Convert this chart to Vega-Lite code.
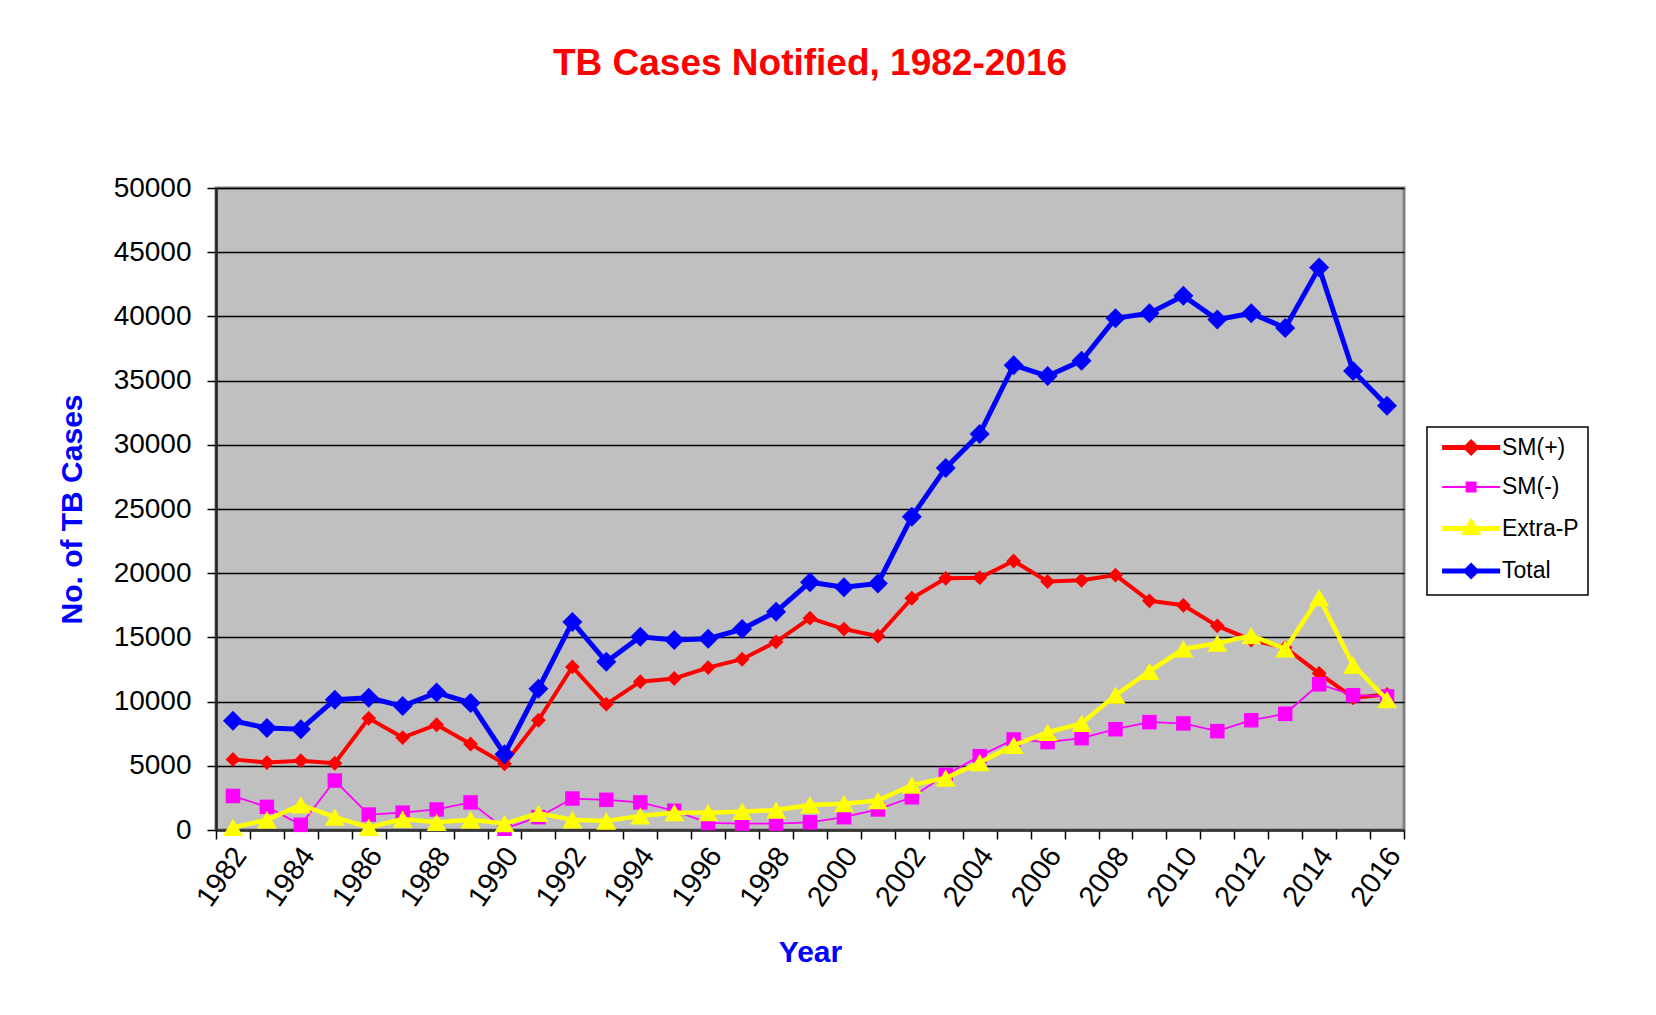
{
  "$schema": "https://vega.github.io/schema/vega-lite/v6.json",
  "autosize": "none",
  "width": 1188,
  "height": 642,
  "padding": {"left": 216, "top": 188, "right": 252, "bottom": 185},
  "background": "white",
  "config": {
    "font": "Liberation Sans",
    "view": {"fill": "#C0C0C0", "stroke": "#808080", "strokeWidth": 3},
    "legend": {"strokeWidth": 1.5}
  },
  "title": {
    "text": "TB Cases Notified, 1982-2016",
    "color": "#FF0000",
    "fontSize": 37,
    "fontWeight": "bold",
    "anchor": "middle",
    "frame": "group",
    "offset": 91
  },
  "data": {
    "values": [
      {"year":1982,"series":"SM(+)","cases":5500},{"year":1982,"series":"SM(-)","cases":2650},{"year":1982,"series":"Extra-P","cases":200},{"year":1982,"series":"Total","cases":8500},
      {"year":1983,"series":"SM(+)","cases":5250},{"year":1983,"series":"SM(-)","cases":1800},{"year":1983,"series":"Extra-P","cases":800},{"year":1983,"series":"Total","cases":7950},
      {"year":1984,"series":"SM(+)","cases":5400},{"year":1984,"series":"SM(-)","cases":400},{"year":1984,"series":"Extra-P","cases":1950},{"year":1984,"series":"Total","cases":7850},
      {"year":1985,"series":"SM(+)","cases":5200},{"year":1985,"series":"SM(-)","cases":3850},{"year":1985,"series":"Extra-P","cases":1000},{"year":1985,"series":"Total","cases":10150},
      {"year":1986,"series":"SM(+)","cases":8700},{"year":1986,"series":"SM(-)","cases":1200},{"year":1986,"series":"Extra-P","cases":200},{"year":1986,"series":"Total","cases":10300},
      {"year":1987,"series":"SM(+)","cases":7200},{"year":1987,"series":"SM(-)","cases":1350},{"year":1987,"series":"Extra-P","cases":850},{"year":1987,"series":"Total","cases":9650},
      {"year":1988,"series":"SM(+)","cases":8200},{"year":1988,"series":"SM(-)","cases":1600},{"year":1988,"series":"Extra-P","cases":600},{"year":1988,"series":"Total","cases":10700},
      {"year":1989,"series":"SM(+)","cases":6700},{"year":1989,"series":"SM(-)","cases":2150},{"year":1989,"series":"Extra-P","cases":800},{"year":1989,"series":"Total","cases":9900},
      {"year":1990,"series":"SM(+)","cases":5150},{"year":1990,"series":"SM(-)","cases":100},{"year":1990,"series":"Extra-P","cases":500},{"year":1990,"series":"Total","cases":5900},
      {"year":1991,"series":"SM(+)","cases":8550},{"year":1991,"series":"SM(-)","cases":1000},{"year":1991,"series":"Extra-P","cases":1300},{"year":1991,"series":"Total","cases":11000},
      {"year":1992,"series":"SM(+)","cases":12700},{"year":1992,"series":"SM(-)","cases":2450},{"year":1992,"series":"Extra-P","cases":800},{"year":1992,"series":"Total","cases":16200},
      {"year":1993,"series":"SM(+)","cases":9800},{"year":1993,"series":"SM(-)","cases":2350},{"year":1993,"series":"Extra-P","cases":700},{"year":1993,"series":"Total","cases":13100},
      {"year":1994,"series":"SM(+)","cases":11550},{"year":1994,"series":"SM(-)","cases":2150},{"year":1994,"series":"Extra-P","cases":1100},{"year":1994,"series":"Total","cases":15050},
      {"year":1995,"series":"SM(+)","cases":11800},{"year":1995,"series":"SM(-)","cases":1500},{"year":1995,"series":"Extra-P","cases":1350},{"year":1995,"series":"Total","cases":14800},
      {"year":1996,"series":"SM(+)","cases":12650},{"year":1996,"series":"SM(-)","cases":550},{"year":1996,"series":"Extra-P","cases":1350},{"year":1996,"series":"Total","cases":14900},
      {"year":1997,"series":"SM(+)","cases":13300},{"year":1997,"series":"SM(-)","cases":500},{"year":1997,"series":"Extra-P","cases":1450},{"year":1997,"series":"Total","cases":15650},
      {"year":1998,"series":"SM(+)","cases":14650},{"year":1998,"series":"SM(-)","cases":500},{"year":1998,"series":"Extra-P","cases":1550},{"year":1998,"series":"Total","cases":17000},
      {"year":1999,"series":"SM(+)","cases":16500},{"year":1999,"series":"SM(-)","cases":600},{"year":1999,"series":"Extra-P","cases":1950},{"year":1999,"series":"Total","cases":19300},
      {"year":2000,"series":"SM(+)","cases":15650},{"year":2000,"series":"SM(-)","cases":1000},{"year":2000,"series":"Extra-P","cases":2050},{"year":2000,"series":"Total","cases":18900},
      {"year":2001,"series":"SM(+)","cases":15100},{"year":2001,"series":"SM(-)","cases":1600},{"year":2001,"series":"Extra-P","cases":2300},{"year":2001,"series":"Total","cases":19200},
      {"year":2002,"series":"SM(+)","cases":18050},{"year":2002,"series":"SM(-)","cases":2550},{"year":2002,"series":"Extra-P","cases":3500},{"year":2002,"series":"Total","cases":24400},
      {"year":2003,"series":"SM(+)","cases":19600},{"year":2003,"series":"SM(-)","cases":4300},{"year":2003,"series":"Extra-P","cases":4050},{"year":2003,"series":"Total","cases":28200},
      {"year":2004,"series":"SM(+)","cases":19650},{"year":2004,"series":"SM(-)","cases":5750},{"year":2004,"series":"Extra-P","cases":5250},{"year":2004,"series":"Total","cases":30850},
      {"year":2005,"series":"SM(+)","cases":20950},{"year":2005,"series":"SM(-)","cases":7050},{"year":2005,"series":"Extra-P","cases":6600},{"year":2005,"series":"Total","cases":36200},
      {"year":2006,"series":"SM(+)","cases":19350},{"year":2006,"series":"SM(-)","cases":6850},{"year":2006,"series":"Extra-P","cases":7600},{"year":2006,"series":"Total","cases":35350},
      {"year":2007,"series":"SM(+)","cases":19450},{"year":2007,"series":"SM(-)","cases":7150},{"year":2007,"series":"Extra-P","cases":8300},{"year":2007,"series":"Total","cases":36550},
      {"year":2008,"series":"SM(+)","cases":19850},{"year":2008,"series":"SM(-)","cases":7850},{"year":2008,"series":"Extra-P","cases":10500},{"year":2008,"series":"Total","cases":39850},
      {"year":2009,"series":"SM(+)","cases":17850},{"year":2009,"series":"SM(-)","cases":8400},{"year":2009,"series":"Extra-P","cases":12350},{"year":2009,"series":"Total","cases":40250},
      {"year":2010,"series":"SM(+)","cases":17500},{"year":2010,"series":"SM(-)","cases":8300},{"year":2010,"series":"Extra-P","cases":14100},{"year":2010,"series":"Total","cases":41600},
      {"year":2011,"series":"SM(+)","cases":15900},{"year":2011,"series":"SM(-)","cases":7700},{"year":2011,"series":"Extra-P","cases":14550},{"year":2011,"series":"Total","cases":39750},
      {"year":2012,"series":"SM(+)","cases":14800},{"year":2012,"series":"SM(-)","cases":8550},{"year":2012,"series":"Extra-P","cases":15150},{"year":2012,"series":"Total","cases":40250},
      {"year":2013,"series":"SM(+)","cases":14200},{"year":2013,"series":"SM(-)","cases":9050},{"year":2013,"series":"Extra-P","cases":14100},{"year":2013,"series":"Total","cases":39100},
      {"year":2014,"series":"SM(+)","cases":12200},{"year":2014,"series":"SM(-)","cases":11350},{"year":2014,"series":"Extra-P","cases":18100},{"year":2014,"series":"Total","cases":43800},
      {"year":2015,"series":"SM(+)","cases":10300},{"year":2015,"series":"SM(-)","cases":10500},{"year":2015,"series":"Extra-P","cases":12850},{"year":2015,"series":"Total","cases":35750},
      {"year":2016,"series":"SM(+)","cases":10550},{"year":2016,"series":"SM(-)","cases":10400},{"year":2016,"series":"Extra-P","cases":10150},{"year":2016,"series":"Total","cases":33050}
    ]
  },
  "encoding": {
    "x": {
      "field": "year",
      "type": "quantitative",
      "scale": {"domain": [1981.5, 2016.5], "nice": false, "zero": false},
      "axis": {
        "title": "Year",
        "titleFontSize": 30,
        "titleFontWeight": "bold",
        "titleColor": "#0000FF",
        "titlePadding": 26,
        "values": [1981.5,1982,1982.5,1983.5,1984,1984.5,1985.5,1986,1986.5,1987.5,1988,1988.5,1989.5,1990,1990.5,1991.5,1992,1992.5,1993.5,1994,1994.5,1995.5,1996,1996.5,1997.5,1998,1998.5,1999.5,2000,2000.5,2001.5,2002,2002.5,2003.5,2004,2004.5,2005.5,2006,2006.5,2007.5,2008,2008.5,2009.5,2010,2010.5,2011.5,2012,2012.5,2013.5,2014,2014.5,2015.5,2016,2016.5],
        "labelExpr": "datum.value % 1 === 0 ? format(datum.value, 'd') : ''",
        "tickOpacity": {"condition": {"test": "datum.value % 1 === 0", "value": 0}, "value": 1},
        "labelAngle": -55,
        "labelAlign": "right",
        "labelBaseline": "middle",
        "labelFontSize": 29,
        "labelColor": "black",
        "labelPadding": 11,
        "labelOffset": 7,
        "labelOverlap": false,
        "labelFlush": false,
        "labelBound": false,
        "tickSize": 9,
        "tickColor": "black",
        "tickWidth": 1.5,
        "domainColor": "#333333",
        "domainWidth": 2.5,
        "grid": false
      }
    },
    "y": {
      "field": "cases",
      "type": "quantitative",
      "scale": {"domain": [0, 50000], "nice": false},
      "axis": {
        "title": "No. of TB Cases",
        "titleFontSize": 30,
        "titleFontWeight": "bold",
        "titleColor": "#0000FF",
        "titlePadding": 26,
        "values": [0,5000,10000,15000,20000,25000,30000,35000,40000,45000,50000],
        "format": "d",
        "labelFontSize": 28,
        "labelColor": "black",
        "labelPadding": 16,
        "tickSize": 9,
        "tickColor": "black",
        "tickWidth": 1.5,
        "domainColor": "#222222",
        "domainWidth": 2.5,
        "grid": true,
        "gridColor": "black",
        "gridWidth": 1.5
      }
    },
    "color": {
      "field": "series",
      "type": "nominal",
      "scale": {"domain": ["SM(+)", "SM(-)", "Extra-P", "Total"], "range": ["#FF0000", "#FF00FF", "#FFFF00", "#0000FF"]},
      "legend": {
        "title": null,
        "orient": "none",
        "legendX": 1211,
        "legendY": 239,
        "fillColor": "white",
        "strokeColor": "black",
        "padding": 9,
        "labelFontSize": 23,
        "labelColor": "black",
        "labelOffset": 43,
        "labelExpr": "datum.label + '\u00a0\u00a0'",
        "rowPadding": 12.5,
        "symbolSize": 729,
        "symbolOpacity": 1,
        "encode": {
          "symbols": {
            "update": {
              "shape": {"signal": "datum.value === 'SM(-)' ? 'M-0.4,0H3.9M1.42,-0.33H2.08V0.33H1.42Z' : datum.value === 'Extra-P' ? 'M-0.4,0H3.9M1.75,-0.45L2.2,0.3L1.3,0.3Z' : 'M-0.4,0H3.9M1.75,-0.37L2.12,0L1.75,0.37L1.38,0Z'"},
              "strokeWidth": {"signal": "datum.value === 'SM(-)' ? 2 : 5"},
              "fill": {"scale": "color", "field": "value"},
              "stroke": {"scale": "color", "field": "value"},
              "opacity": {"value": 1}
            }
          }
        }
      }
    }
  },
  "layer": [
    {
      "transform": [{"filter": "datum.series === 'SM(+)'"}],
      "mark": {"type": "line", "strokeWidth": 4, "point": {"shape": "diamond", "size": 220, "filled": true}}
    },
    {
      "transform": [{"filter": "datum.series === 'SM(-)'"}],
      "mark": {"type": "line", "strokeWidth": 1.8, "point": {"shape": "square", "size": 210, "filled": true}}
    },
    {
      "transform": [{"filter": "datum.series === 'Extra-P'"}],
      "mark": {"type": "line", "strokeWidth": 4.5, "point": {"shape": "triangle-up", "size": 400, "filled": true}}
    },
    {
      "transform": [{"filter": "datum.series === 'Total'"}],
      "mark": {"type": "line", "strokeWidth": 5, "point": {"shape": "diamond", "size": 400, "filled": true}}
    }
  ]
}
